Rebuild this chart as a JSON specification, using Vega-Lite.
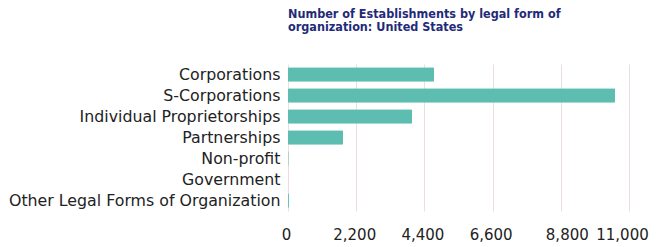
{
  "$schema": "https://vega.github.io/schema/vega-lite/v6.json",
  "width": 341,
  "height": 147,
  "autosize": {"type": "none"},
  "padding": {"left": 288, "top": 64, "right": 41, "bottom": 36},
  "background": "white",
  "title": {
    "text": ["Number of Establishments by legal form of", "organization: United States"],
    "anchor": "start",
    "frame": "group",
    "font": "DejaVu Sans Condensed",
    "fontSize": 12.5,
    "fontWeight": "bold",
    "color": "#1f2a78",
    "lineHeight": 13,
    "offset": 31
  },
  "data": {
    "values": [
      {"form": "Corporations", "count": 4710},
      {"form": "S-Corporations", "count": 10550},
      {"form": "Individual Proprietorships", "count": 4000},
      {"form": "Partnerships", "count": 1775},
      {"form": "Non-profit", "count": 20},
      {"form": "Government", "count": 5},
      {"form": "Other Legal Forms of Organization", "count": 30}
    ]
  },
  "mark": {"type": "bar", "color": "#5dbdb0", "cornerRadius": 1},
  "encoding": {
    "y": {
      "field": "form",
      "type": "nominal",
      "sort": null,
      "title": null,
      "scale": {"paddingInner": 0.3, "paddingOuter": 0.15},
      "axis": {
        "domain": false,
        "ticks": false,
        "labelFont": "DejaVu Sans",
        "labelFontSize": 15.8,
        "labelColor": "#222222",
        "labelPadding": 8,
        "labelLimit": 400
      }
    },
    "x": {
      "field": "count",
      "type": "quantitative",
      "title": null,
      "scale": {"domain": [0, 11000], "nice": false},
      "axis": {
        "values": [0, 2200, 4400, 6600, 8800, 11000],
        "format": ",d",
        "domain": false,
        "ticks": false,
        "grid": true,
        "gridColor": "#eddede",
        "labelFont": "DejaVu Sans",
        "labelFontSize": 15,
        "labelColor": "#222222",
        "labelPadding": 16,
        "labelOverlap": false,
        "labelFlush": false,
        "labelOffset": {
          "condition": [
            {"test": "datum.value == 11000", "value": -7},
            {"test": "datum.value == 8800", "value": 6}
          ],
          "value": -2
        }
      }
    }
  },
  "config": {"view": {"stroke": null}}
}
